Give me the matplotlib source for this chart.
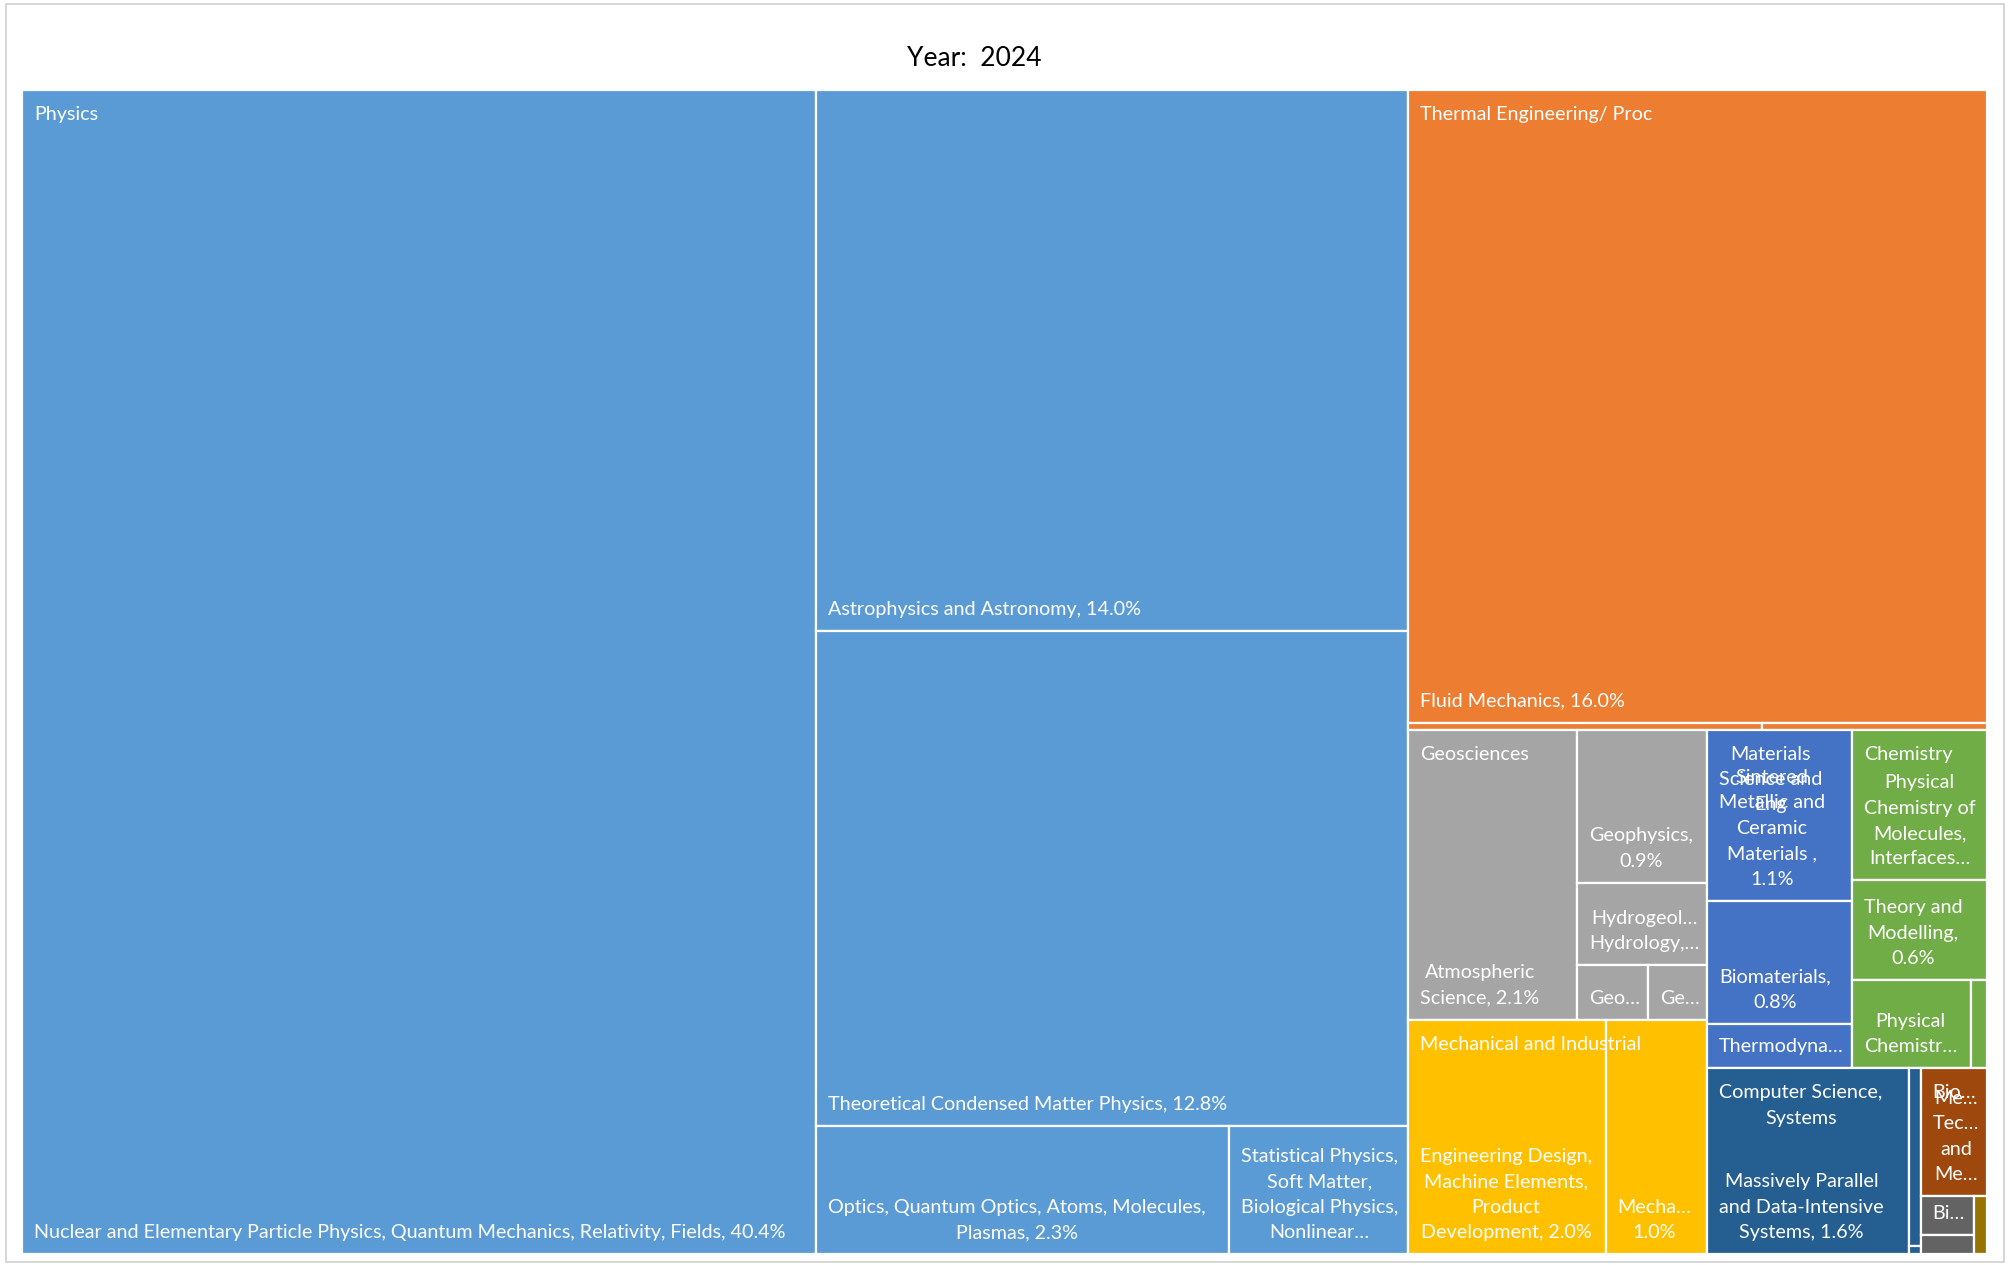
import matplotlib.pyplot as plt
from matplotlib.patches import Rectangle

plt.rcParams['font.family'] = ['Lato', 'DejaVu Sans']

# Группы верхнего уровня и цвета (палитра Office)
groups = ['Physics', 'Thermal Engineering/ Proc', 'Geosciences', 'Mechanical and Industrial',
          'Materials\nScience and\nEng', 'Chemistry', 'Computer Science,\nSystems', 'Bio…', '', '']
colors = ['#5B9BD5', '#ED7D31', '#A5A5A5', '#FFC000', '#4472C4',
          '#70AD47', '#255E91', '#9E480E', '#636363', '#997300']

# Листья: подписи ({p} -> процент) и доли, %
physics_labels = ['Nuclear and Elementary Particle Physics, Quantum Mechanics, Relativity, Fields, {p}',
                  'Astrophysics and Astronomy, {p}',
                  'Theoretical Condensed Matter Physics, {p}',
                  'Optics, Quantum Optics, Atoms, Molecules,\nPlasmas, {p}',
                  'Statistical Physics,\nSoft Matter,\nBiological Physics,\nNonlinear…']
physics_values = [40.4, 14.0, 12.8, 2.3, 1.0]

thermal_labels = ['Fluid Mechanics, {p}', '', '']
thermal_values = [16.0, 0.11, 0.07]

geo_labels = ['Atmospheric\nScience, {p}', 'Geophysics,\n{p}', 'Hydrogeol…\nHydrology,…', 'Geo…', 'Ge…']
geo_values = [2.14, 0.87, 0.47, 0.17, 0.14]

mech_labels = ['Engineering Design,\nMachine Elements,\nProduct\nDevelopment, {p}', 'Mecha…\n{p}']
mech_values = [2.02, 1.04]

mat_labels = ['Sintered\nMetallic and\nCeramic\nMaterials ,\n{p}', 'Biomaterials,\n{p}', 'Thermodyna…']
mat_values = [1.08, 0.78, 0.28]

chem_labels = ['Physical\nChemistry of\nMolecules,\nInterfaces…', 'Theory and\nModelling,\n{p}',
               'Physical\nChemistr…', '']
chem_values = [0.89, 0.59, 0.46, 0.06]

cs_labels = ['Massively Parallel\nand Data-Intensive\nSystems, {p}', '', '']
cs_values = [1.64, 0.09, 0.004]

bio_labels = ['Me…\nTec…\nand\nMe…']
bio_values = [0.37]

gray_labels = ['Bi…', '']
gray_values = [0.09, 0.044]

gold_labels = ['']
gold_values = [0.034]

labels = [physics_labels, thermal_labels, geo_labels, mech_labels, mat_labels,
          chem_labels, cs_labels, bio_labels, gray_labels, gold_labels]
values = [physics_values, thermal_values, geo_values, mech_values, mat_values,
          chem_values, cs_values, bio_values, gray_values, gold_values]

# Раскладка: ('h', ...) слева направо, ('v', ...) сверху вниз, (g, i) - лист
layout = ('h', [
    ('h', [(0, 0), ('v', [(0, 1), (0, 2), ('h', [(0, 3), (0, 4)])])]),
    ('v', [
        ('v', [(1, 0), ('h', [(1, 1), (1, 2)])]),
        ('h', [
            ('v', [('h', [(2, 0), ('v', [(2, 1), (2, 2), ('h', [(2, 3), (2, 4)])])]),
                   ('h', [(3, 0), (3, 1)])]),
            ('v', [
                ('h', [('v', [(4, 0), (4, 1), (4, 2)]),
                       ('v', [(5, 0), (5, 1), ('h', [(5, 2), (5, 3)])])]),
                ('h', [('h', [(6, 0), ('v', [(6, 1), (6, 2)])]),
                       ('v', [(7, 0), ('h', [('v', [(8, 0), (8, 1)]), (9, 0)])])]),
            ]),
        ]),
    ]),
])


def total(node):
    if isinstance(node[0], str):
        return sum(total(k) for k in node[1])
    g, i = node
    return values[g][i]


rects = {}


def place(node, x, y, w, h):
    if not isinstance(node[0], str):
        rects[node] = (x, y, w, h)
        return
    d, kids = node
    s = total(node)
    for k in kids:
        f = total(k) / s
        if d == 'h':
            place(k, x, y, w * f, h)
            x += w * f
        else:
            place(k, x, y, w, h * f)
            y += h * f


# Рисунок в пиксельных координатах
fig = plt.figure(figsize=(20.1, 12.65), dpi=100)
ax = fig.add_axes([0, 0, 1, 1])
ax.set_xlim(0, 2010)
ax.set_ylim(1265, 0)
ax.axis('off')

# Рамка области диаграммы
ax.add_patch(Rectangle((6, 4), 1998, 1258, fill=False, edgecolor='#d0d0d0', lw=1.2))

place(layout, 22, 90, 1965, 1164)

FS = 14.2
LS = 1.6
PAD = 12

for (g, i), (x, y, w, h) in rects.items():
    ax.add_patch(Rectangle((x, y), w, h, facecolor=colors[g], edgecolor='white', lw=1.6))

# Подписи групп (сверху слева)
for g, name in enumerate(groups):
    if not name:
        continue
    xs = [r[0] for k, r in rects.items() if k[0] == g]
    ys = [r[1] for k, r in rects.items() if k[0] == g]
    ax.text(min(xs) + PAD, min(ys) + 16, name, ha='left', va='top', multialignment='center',
            color='white', fontsize=FS, linespacing=LS)

# Подписи листьев (снизу)
for (g, i), (x, y, w, h) in rects.items():
    txt = labels[g][i]
    if not txt:
        continue
    txt = txt.format(p=f'{values[g][i]:.1f}%')
    ax.text(x + PAD, y + h - 13, txt, ha='left', va='bottom', multialignment='center',
            color='white', fontsize=FS, linespacing=LS)

ax.text(974, 58, 'Year:  2024', ha='center', va='center', fontsize=19, color='black')

plt.savefig('out.png', dpi=100)
